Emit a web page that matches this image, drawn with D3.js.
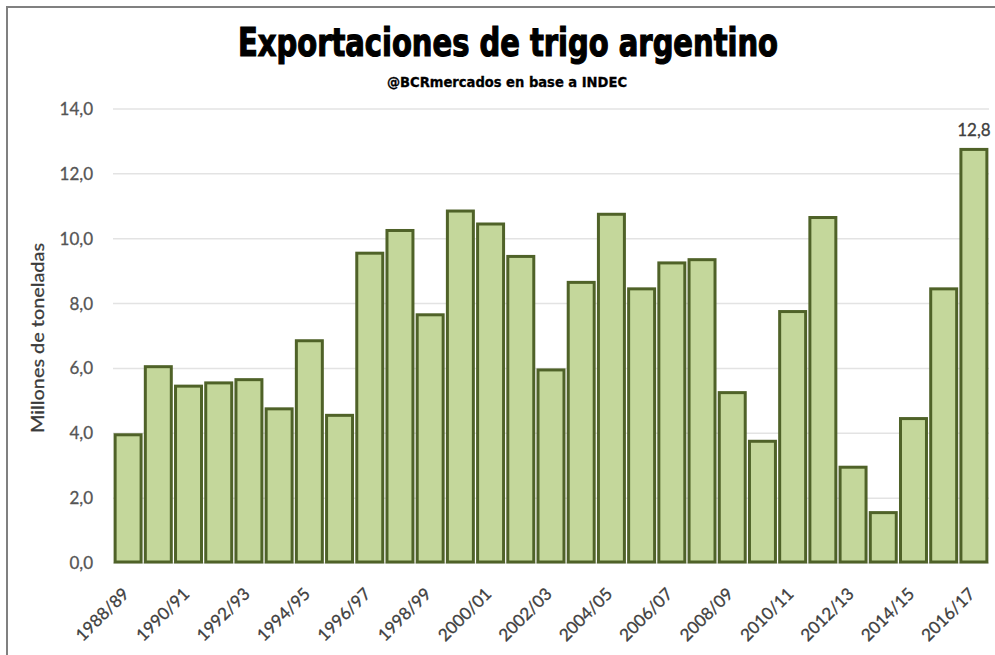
<!DOCTYPE html>
<html lang="es">
<head>
<meta charset="utf-8">
<title>Exportaciones de trigo argentino</title>
<script src="https://cdnjs.cloudflare.com/ajax/libs/d3/7.8.5/d3.min.js"></script>
<style>
  html, body { margin: 0; padding: 0; background: #fff; }
  svg { display: block; }
  .tick-lbl, .cat-lbl, .axis-title, .data-lbl { font-family: Lato, "Open Sans", sans-serif; }
</style>
</head>
<body>
<script>
// campañas (eje x)
var campanias = ["1988/89","1989/90","1990/91","1991/92","1992/93","1993/94","1994/95","1995/96",
  "1996/97","1997/98","1998/99","1999/00","2000/01","2001/02","2002/03","2003/04","2004/05",
  "2005/06","2006/07","2007/08","2008/09","2009/10","2010/11","2011/12","2012/13","2013/14",
  "2014/15","2015/16","2016/17"];

// exportaciones, millones de toneladas
var exportaciones = [4.0, 6.1, 5.5, 5.6, 5.7, 4.8, 6.9, 4.6, 9.6, 10.3, 7.7, 10.9, 10.5, 9.5,
  6.0, 8.7, 10.8, 8.5, 9.3, 9.4, 5.3, 3.8, 7.8, 10.7, 3.0, 1.6, 4.5, 8.5, 12.8];

// marcas del eje y
var yTicks = [0, 2, 4, 6, 8, 10, 12, 14];

var W = 995, H = 655;
var fmt = function (v) { return d3.format(".1f")(v).replace(".", ","); };

var svg = d3.select("body").append("svg")
    .attr("width", W)
    .attr("height", H);

// marco del gráfico (solo arriba e izquierda quedan visibles)
svg.append("path")
    .attr("d", "M7," + H + " V7 H" + W)
    .attr("fill", "none")
    .attr("stroke", "#808080")
    .attr("stroke-width", 2);

var x = d3.scaleBand()
    .domain(campanias)
    .range([113, 989])
    .paddingInner(0.14)
    .paddingOuter(0.07);

var y = d3.scaleLinear()
    .domain([0, 14])
    .range([563, 109]);

// titulo y fuente
svg.append("text")
    .attr("x", 508).attr("y", 56)
    .attr("text-anchor", "middle")
    .attr("textLength", 540)
    .attr("lengthAdjust", "spacingAndGlyphs")
    .style("font-family", "'Liberation Sans Narrow', 'DejaVu Sans Condensed', sans-serif")
    .style("font-weight", "bold")
    .style("font-size", "39px")
    .attr("fill", "#000")
    .attr("stroke", "#000")
    .attr("stroke-width", 1.2)
    .text("Exportaciones de trigo argentino");

svg.append("text")
    .attr("x", 507).attr("y", 87)
    .attr("text-anchor", "middle")
    .attr("textLength", 240)
    .attr("lengthAdjust", "spacingAndGlyphs")
    .style("font-family", "'Liberation Sans Narrow', 'DejaVu Sans Condensed', sans-serif")
    .style("font-weight", "bold")
    .style("font-size", "14px")
    .attr("fill", "#000")
    .attr("stroke", "#000")
    .attr("stroke-width", 0.3)
    .text("@BCRmercados en base a INDEC");

// grilla
svg.append("g").selectAll("line")
    .data(yTicks)
    .enter().append("line")
    .attr("x1", 113).attr("x2", 989)
    .attr("y1", function (d) { return y(d); })
    .attr("y2", function (d) { return y(d); })
    .attr("stroke", "#e3e3e3")
    .attr("stroke-width", 1.5);

// etiquetas eje y
svg.append("g").selectAll("text")
    .data(yTicks)
    .enter().append("text")
    .attr("class", "tick-lbl")
    .attr("x", 93)
    .attr("y", function (d) { return y(d) + 6; })
    .attr("text-anchor", "end")
    .style("font-size", "17px")
    .attr("fill", "#555")
    .attr("stroke", "#555")
    .attr("stroke-width", 0.3)
    .text(fmt);

svg.append("text")
    .attr("class", "axis-title")
    .attr("transform", "translate(44,338) rotate(-90)")
    .attr("text-anchor", "middle")
    .attr("textLength", 190)
    .attr("lengthAdjust", "spacingAndGlyphs")
    .style("font-size", "18px")
    .attr("fill", "#3a3a3a")
    .attr("stroke", "#3a3a3a")
    .attr("stroke-width", 0.3)
    .text("Millones de toneladas");

// barras
svg.append("g").selectAll("rect")
    .data(exportaciones)
    .enter().append("rect")
    .attr("x", function (d, i) { return x(campanias[i]); })
    .attr("y", function (d) { return y(d) + 1.5; })
    .attr("width", x.bandwidth())
    .attr("height", function (d) { return y(0) - y(d) - 2.5; })
    .attr("fill", "#c4d79b")
    .attr("stroke", "#4f6228")
    .attr("stroke-width", 3);

// etiquetas eje x (una de cada dos)
svg.append("g").selectAll("text")
    .data(campanias.filter(function (d, i) { return i % 2 === 0; }))
    .enter().append("text")
    .attr("class", "cat-lbl")
    .attr("transform", function (d) {
        return "translate(" + (x(d) + x.bandwidth() / 2 + 2) + ",595) rotate(-45)";
    })
    .attr("text-anchor", "end")
    .style("font-size", "17px")
    .attr("fill", "#404040")
    .attr("stroke", "#404040")
    .attr("stroke-width", 0.3)
    .text(function (d) { return d; });

// dato del ultimo año
var ultimo = campanias.length - 1;
svg.append("text")
    .attr("class", "data-lbl")
    .attr("x", x(campanias[ultimo]) + x.bandwidth() / 2)
    .attr("y", y(exportaciones[ultimo]) - 12)
    .attr("text-anchor", "middle")
    .style("font-size", "17px")
    .attr("fill", "#404040")
    .attr("stroke", "#404040")
    .attr("stroke-width", 0.3)
    .text(fmt(exportaciones[ultimo]));
</script>
</body>
</html>
